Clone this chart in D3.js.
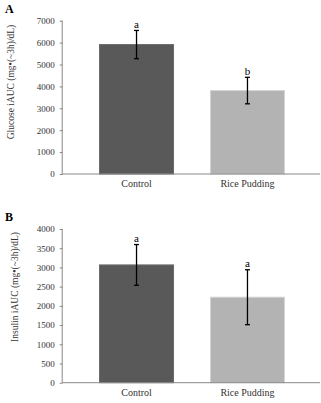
<!DOCTYPE html>
<html>
<head>
<meta charset="utf-8">
<script src="https://cdn.jsdelivr.net/npm/d3@7"></script>
<style>
  body { margin: 0; background: #fff; }
  svg text { font-family: "Liberation Serif", "Times New Roman", serif; }
</style>
</head>
<body>
<div id="chart"></div>
<script>
const categories = ["Control", "Rice Pudding"];
const glucoseMean = [5910, 3810];
const glucoseErr = [645, 605];
const glucoseLetters = ["a", "b"];
const glucoseTicks = [0, 1000, 2000, 3000, 4000, 5000, 6000, 7000];
const insulinMean = [3065, 2225];
const insulinErr = [530, 715];
const insulinLetters = ["a", "a"];
const insulinTicks = [0, 500, 1000, 1500, 2000, 2500, 3000, 3500, 4000];
const barColors = ["#595959", "#b3b3b3"];
const barStroke = ["#6a6a6a", "#d4d4d4"];

const width = 321, height = 403;
const svg = d3.select("#chart").append("svg")
  .attr("width", width)
  .attr("height", height)
  .attr("font-family", "'Liberation Serif', serif");

function panel(opts) {
  const g = svg.append("g");
  const y = d3.scaleLinear().domain([0, opts.ticks[opts.ticks.length - 1]]).range([opts.bottom, opts.top]);
  const x = d3.scaleBand().domain(categories).range([81, 303]).paddingInner(0.333).paddingOuter(0.167);

  // panel letter
  g.append("text")
    .attr("x", 5).attr("y", opts.top - 8)
    .style("font-size", "12px").style("font-weight", "bold")
    .text(opts.letter);

  // y axis
  const axis = g.append("g")
    .attr("transform", `translate(${opts.axisX},0)`)
    .call(d3.axisLeft(y).tickValues(opts.ticks).tickSize(3).tickPadding(5).tickFormat(d3.format("d")));
  axis.attr("font-family", null);
  axis.select(".domain").attr("stroke", "#888").attr("d", `M-0.5,${opts.top}V${opts.bottom}`);
  axis.selectAll(".tick line").attr("stroke", "#888");
  axis.selectAll(".tick text").attr("fill", "#333").style("font-size", "9px");

  // y label
  g.append("text")
    .attr("transform", `translate(${opts.labelX},${opts.labelY}) rotate(-90)`)
    .attr("text-anchor", "middle")
    .attr("fill", "#333")
    .style("font-size", "9.5px")
    .text(opts.ylabel);

  // bars
  g.selectAll("rect.bar")
    .data(opts.means)
    .join("rect")
    .attr("class", "bar")
    .attr("x", (d, i) => x(categories[i]))
    .attr("width", x.bandwidth())
    .attr("y", d => y(d))
    .attr("height", d => y(0) - y(d))
    .attr("fill", (d, i) => barColors[i])
    .attr("stroke", (d, i) => barStroke[i])
    .attr("stroke-width", 1);

  // x baseline
  g.append("line")
    .attr("x1", opts.axisX - 0.5).attr("x2", 320)
    .attr("y1", y(0)).attr("y2", y(0))
    .attr("stroke", "#888");

  // error bars
  const eb = g.selectAll("g.err")
    .data(opts.means)
    .join("g")
    .attr("class", "err");
  eb.append("line")
    .attr("x1", (d, i) => x(categories[i]) + x.bandwidth() / 2)
    .attr("x2", (d, i) => x(categories[i]) + x.bandwidth() / 2)
    .attr("y1", (d, i) => y(d + opts.errs[i]))
    .attr("y2", (d, i) => y(d - opts.errs[i]))
    .attr("stroke", "#000").attr("stroke-width", 1.3);
  [1, -1].forEach(s => {
    eb.append("line")
      .attr("x1", (d, i) => x(categories[i]) + x.bandwidth() / 2 - 2.5)
      .attr("x2", (d, i) => x(categories[i]) + x.bandwidth() / 2 + 2.5)
      .attr("y1", (d, i) => y(d + s * opts.errs[i]))
      .attr("y2", (d, i) => y(d + s * opts.errs[i]))
      .attr("stroke", "#000").attr("stroke-width", 1.3);
  });
  eb.append("text")
    .attr("x", (d, i) => x(categories[i]) + x.bandwidth() / 2)
    .attr("y", (d, i) => y(d + opts.errs[i]) - 2.5)
    .attr("text-anchor", "middle")
    .attr("fill", "#000")
    .style("font-size", "11px")
    .text((d, i) => opts.letters[i]);

  // category labels
  g.selectAll("text.cat")
    .data(categories)
    .join("text")
    .attr("class", "cat")
    .attr("x", d => x(d) + x.bandwidth() / 2)
    .attr("y", opts.bottom + 13)
    .attr("text-anchor", "middle")
    .attr("fill", "#333")
    .style("font-size", "10px")
    .text(d => d);
}

panel({
  letter: "A", top: 20.7, bottom: 174, axisX: 62.7, labelX: 14, labelY: 82,
  ticks: glucoseTicks, means: glucoseMean, errs: glucoseErr, letters: glucoseLetters,
  ylabel: "Glucose iAUC (mg•(~3h)/dL)"
});
panel({
  letter: "B", top: 229, bottom: 382.7, axisX: 62.7, labelX: 18, labelY: 287,
  ticks: insulinTicks, means: insulinMean, errs: insulinErr, letters: insulinLetters,
  ylabel: "Insulin iAUC (mg•(~3h)/dL)"
});
</script>
</body>
</html>
